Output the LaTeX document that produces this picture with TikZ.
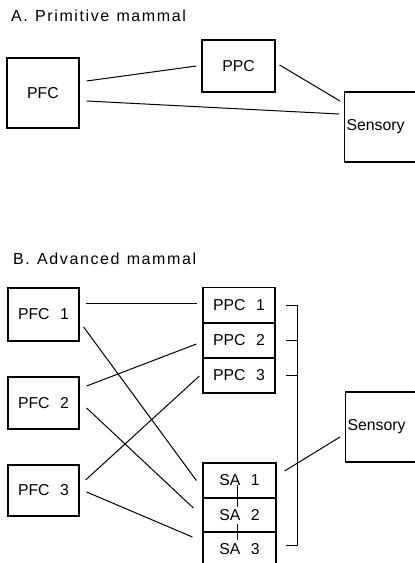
\documentclass[tikz,border=0pt]{standalone}
\usepackage{fontspec}
\setmainfont{Liberation Sans}[WordSpace=2.4]
\newfontfamily\titlefont{Liberation Sans}[LetterSpace=10,WordSpace=1.2]
\begin{document}
\begin{tikzpicture}[x=1pt,y=-1pt,
  box/.style={draw,line width=1.2pt,inner sep=0pt,font=\fontsize{15.8}{18}\selectfont},
  conn/.style={line width=1pt},
  ttl/.style={anchor=base west,inner sep=0pt,font=\titlefont\fontsize{16}{18}\selectfont}]
\useasboundingbox (0,0) rectangle (415,563);
\clip (0,0) rectangle (415,563);
% titles
\node[ttl] (tA) at (11,21.5) {A. Primitive mammal};
\node[ttl] (tB) at (13,264) {B. Advanced mammal};
% A
\node[box,minimum width=72,minimum height=70] (pfcA) at (43,93) {PFC};
\node[box,minimum width=73,minimum height=52] (ppcA) at (238.5,66) {PPC};
\node[box,minimum height=70,text width=76,align=left,inner xsep=2pt,anchor=west] (sensA) at (344,127) {Sensory};
\draw[conn] ([shift={(7,-12)}]pfcA.east) -- ([shift={(-5,0)}]ppcA.west);
\draw[conn] ([shift={(7,8)}]pfcA.east) -- ([shift={(-5,-13)}]sensA.west);
\draw[conn] ([shift={(4,-1)}]ppcA.east) -- ([shift={(-4,-26)}]sensA.west);
% B
\node[box,minimum width=71,minimum height=53] (pfc1) at (43.5,314.5) {PFC 1};
\node[box,minimum width=71,minimum height=52] (pfc2) at (43.5,403) {PFC 2};
\node[box,minimum width=71,minimum height=51] (pfc3) at (43.5,490.5) {PFC 3};
\node[box,minimum width=72,minimum height=35.5] (ppc1) at (239,305) {PPC 1};
\node[box,minimum width=72,minimum height=35] (ppc2) at (239,340.5) {PPC 2};
\node[box,minimum width=72,minimum height=35] (ppc3) at (239,375.5) {PPC 3};
\node[box,minimum width=73,minimum height=35] (sa1) at (239.5,480.5) {SA 1};
\node[box,minimum width=73,minimum height=34] (sa2) at (239.5,515) {SA 2};
\node[box,minimum width=73,minimum height=35] (sa3) at (239.5,549.5) {SA 3};
\node[box,minimum height=70,text width=76,align=left,inner xsep=2pt,anchor=west] (sensB) at (345,427) {\raisebox{-3pt}{Sensory}};
% crossing connectors
\draw[conn] ([shift={(6,-11.5)}]pfc1.east) -- ([shift={(-5,-2)}]ppc1.west);
\draw[conn] ([shift={(4,12.5)}]pfc1.east) -- ([shift={(-6,0)}]sa1.west);
\draw[conn] ([shift={(7,-17)}]pfc2.east) -- ([shift={(-6,3.5)}]ppc2.west);
\draw[conn] ([shift={(7,5)}]pfc2.east) -- ([shift={(-9,-7)}]sa2.west);
\draw[conn] ([shift={(6,-10.5)}]pfc3.east) -- ([shift={(-3,0.5)}]ppc3.west);
\draw[conn] ([shift={(7,1.5)}]pfc3.east) -- ([shift={(-10,-12.5)}]sa3.west);
% bracket
\coordinate (brTop) at (297,305);
\coordinate (brBot) at (297,545);
\draw[conn] ([xshift=10pt]ppc1.east) -- (brTop) -- (brBot) -- ([shift={(9,-4.5)}]sa3.east);
\draw[conn] ([xshift=10pt]ppc2.east) -- (ppc2.east -| brTop);
\draw[conn] ([xshift=10pt]ppc3.east) -- (ppc3.east -| brTop);
\draw[conn] ([shift={(8,-9.5)}]sa1.east) -- ([shift={(-5,10)}]sensB.west);
% small internal segments in SA stack
\draw[conn] ([shift={(-2.5,4.5)}]sa1.center) -- ([shift={(-2.5,-8)}]sa2.center);
\draw[conn] ([shift={(-2.5,9)}]sa2.center) -- ([shift={(-2.5,-9.5)}]sa3.center);
\end{tikzpicture}
\end{document}
